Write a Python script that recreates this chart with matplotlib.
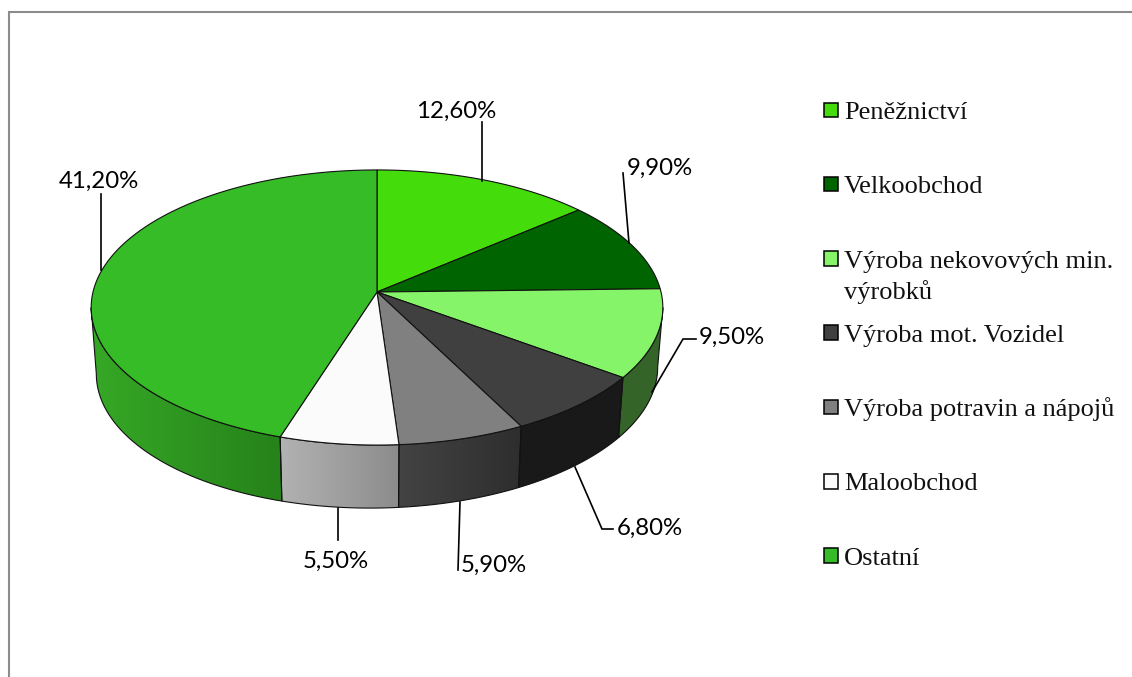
import numpy as np
from matplotlib import pyplot as plt
from matplotlib.colors import to_rgb
from matplotlib.patches import Polygon, Rectangle

# Data
categories = ["Peněžnictví", "Velkoobchod", "Výroba nekovových min.\nvýrobků", "Výroba mot. Vozidel",
              "Výroba potravin a nápojů", "Maloobchod", "Ostatní"]
values = [12.6, 9.9, 9.5, 6.8, 5.9, 5.5, 41.2]
top_colors = ["#44DC0A", "#006400", "#86F468", "#404040", "#808080", "#FBFBFB", "#36BC26"]
# side colours of each slice, from its left end to its right end on screen
side_colors = [("#2E9A08", "#2E9A08"), ("#004500", "#004500"), ("#356429", "#356429"),
               ("#191919", "#191919"), ("#434343", "#2E2E2E"), ("#B2B2B2", "#8C8C8C"),
               ("#36A826", "#26821A")]

# where the percent labels and their leader lines go (pixels)
label_pos = [(456, 111), (660, 168), (732, 337), (650, 528), (494, 565), (336, 561), (99, 181)]
leaders = [[(482, 122), (482, 181)], [(623, 173), (629, 243)], [(696, 339), (683, 339), (652, 392)],
           [(613, 529), (602, 529), (575, 467)], [(458, 570), (460, 502)], [(338, 540), (338, 508)],
           [(101, 194), (101, 270)]]

# pie geometry, pixels
cx, cy = 377, 292
a, b, k = 284, 135.8, 0.1127
depth = 63
fig = plt.figure(figsize=(11.32, 6.77), dpi=100)
ax = fig.add_axes([0, 0, 1, 1])


def rim(theta):
    # circle seen in perspective, theta clockwise from the top
    d = 1 + k * np.cos(theta)
    return cx + a * np.sin(theta) / d, cy - b * np.cos(theta) / d


def rim_low(theta):
    x, y = rim(theta)
    dx = x - cx
    return cx + dx * 0.982, y + depth - 0.012 * dx


fractions = np.array(values) / sum(values)
edges = np.concatenate([[0], np.cumsum(fractions)]) * 2 * np.pi
vis_start = np.arccos(-k)
vis_end = 2 * np.pi - vis_start

# sides first
for i in range(len(values)):
    t0, t1 = max(edges[i], vis_start), min(edges[i + 1], vis_end)
    if t1 <= t0:
        continue
    t = np.linspace(t0, t1, 80)
    xt, yt = rim(t)
    xb, yb = rim_low(t)
    pts = np.column_stack([np.r_[xt, xb[::-1]], np.r_[yt, yb[::-1]]])
    poly = Polygon(pts, closed=True, facecolor="none", edgecolor="none")
    ax.add_patch(poly)
    x0, x1 = pts[:, 0].min(), pts[:, 0].max()
    c0, c1 = np.array(to_rgb(side_colors[i][0])), np.array(to_rgb(side_colors[i][1]))
    grad = np.linspace(0, 1, 64)[None, :, None] * (c1 - c0) + c0
    im = ax.imshow(grad, extent=[x0, x1, pts[:, 1].max(), pts[:, 1].min()], aspect="auto",
                   interpolation="bilinear", zorder=1)
    im.set_clip_path(poly)
    ax.add_patch(Polygon(pts, closed=True, facecolor="none", edgecolor="#111111", lw=0.8, zorder=2))

# top of the pie
for i in range(len(values)):
    t = np.linspace(edges[i], edges[i + 1], 120)
    xt, yt = rim(t)
    pts = np.column_stack([np.r_[cx, xt], np.r_[cy, yt]])
    ax.add_patch(Polygon(pts, closed=True, facecolor=top_colors[i], edgecolor="#111111", lw=0.8, zorder=3))

# percent labels
for v, pos, line in zip(values, label_pos, leaders):
    xs, ys = zip(*line)
    ax.plot(xs, ys, color="black", lw=1.2, zorder=4, solid_joinstyle="miter")
    ax.text(pos[0], pos[1], f"{v:.2f}%".replace(".", ","), family="Lato", fontsize=17.3, color="black",
            ha="center", va="center", zorder=5)

# legend
for i, name in enumerate(categories):
    y = 110 + i * 74.3
    ax.add_patch(Rectangle((823.5, y - 7.5), 14.5, 14.5, facecolor=top_colors[i], edgecolor="black", lw=1.1, zorder=3))
    for j, part in enumerate(name.split("\n")):
        ax.text(844, y + 9 + j * 31, part, family="Liberation Serif", fontsize=19, color="#111111",
                ha="left", va="baseline")

# chart frame
ax.plot([8.5, 8.5, 1132], [677, 11.5, 11.5], color="#8C8C8C", lw=1.5, solid_joinstyle="miter")

ax.set_xlim(0, 1132)
ax.set_ylim(677, 0)
ax.axis("off")
fig.savefig("out.png", dpi=100, facecolor="white")
